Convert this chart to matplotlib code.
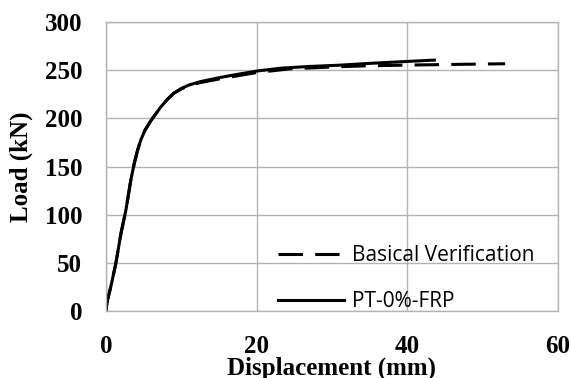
import matplotlib
matplotlib.use("Agg")
import matplotlib.pyplot as plt

# Load-displacement curves
disp_fem = [0, 0.13, 0.66, 1.32, 2.0, 2.65, 3.3, 3.75, 4.2, 4.6, 5.2, 6.0, 7.3, 8.2, 9.0, 10.0, 11.0, 12.5, 14.8, 17, 20, 23.2, 27, 30.7, 35, 40, 43.6]
load_fem = [0, 9, 26, 50, 81, 105, 136, 153, 167, 177, 188, 198, 212, 220, 226, 231, 234.5, 238, 241.8, 245, 249, 252, 253.8, 255, 257, 259, 260.4]

disp_ver = [0, 0.13, 0.66, 1.32, 2.0, 2.65, 3.3, 3.75, 4.2, 4.6, 5.2, 6.0, 7.3, 8.2, 9.0, 10.0, 11.0, 12.5, 14.8, 17, 20, 24.4, 30.7, 35, 40.8, 47, 53]
load_ver = [0, 9, 26, 50, 81, 105, 136, 153, 167, 177, 188, 198, 212, 220, 226, 230.5, 233.8, 237, 240.5, 243.5, 247.5, 251.3, 253.5, 254.5, 255.3, 256, 256.6]

xticks = [0, 20, 40, 60]
yticks = [0, 50, 100, 150, 200, 250, 300]

tick_font = {"family": "Liberation Serif", "weight": "bold", "size": 18}

fig = plt.figure(figsize=(5.71, 3.78), dpi=100)
ax = fig.add_axes([0.1856, 0.177, 0.7914, 0.765])

ax.plot(disp_ver, load_ver, color="black", lw=2.2, dashes=(8, 4), label="Basical Verification")
ax.plot(disp_fem, load_fem, color="black", lw=2.2, label="PT-0%-FRP")

ax.set_xlim(0, 60)
ax.set_ylim(0, 300)
ax.set_xticks(xticks)
ax.set_yticks(yticks)
ax.grid(True, color="#b3b3b3", lw=1.0)
ax.set_axisbelow(True)
for s in ax.spines.values():
    s.set_color("#b3b3b3")
    s.set_linewidth(1.0)
ax.tick_params(length=0, pad=17)
for lab in ax.get_xticklabels() + ax.get_yticklabels():
    lab.set_fontproperties(tick_font)

ax.set_xlabel("Displacement (mm)", fontdict=tick_font, labelpad=-1)
ax.set_ylabel("Load (kN)", fontdict=tick_font, labelpad=8.5)

ax.legend(loc="upper left", bbox_to_anchor=(0.38, 0.228), frameon=False,
          prop={"family": "Open Sans", "size": 15}, handlelength=3.2,
          handletextpad=0.39, labelspacing=1.2, borderpad=0, borderaxespad=0)

fig.savefig("out.png", dpi=100)
